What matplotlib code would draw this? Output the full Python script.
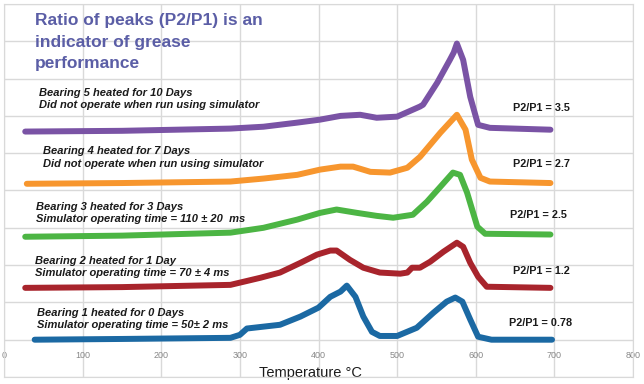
import matplotlib
matplotlib.use('Agg')
from matplotlib import pyplot as plt

# temperature (deg C) and offset signal for each bearing
temp_b1 = [39, 150, 288, 300, 309, 351, 377, 400, 415, 428, 436, 447, 457, 468, 478, 500, 525, 546, 563, 574, 583, 593, 603, 620, 697]
sig_b1 = [0.0, 0.02, 0.05, 0.13, 0.3, 0.4, 0.62, 0.86, 1.15, 1.29, 1.45, 1.15, 0.62, 0.21, 0.1, 0.1, 0.32, 0.72, 1.02, 1.13, 1.02, 0.54, 0.08, 0.0, 0.0]

temp_b2 = [27, 150, 288, 326, 351, 377, 398, 415, 423, 440, 457, 478, 504, 513, 519, 529, 542, 559, 576, 584, 593, 603, 614, 695]
sig_b2 = [1.39, 1.41, 1.47, 1.66, 1.8, 2.06, 2.28, 2.39, 2.39, 2.14, 1.93, 1.8, 1.77, 1.8, 1.93, 1.93, 2.09, 2.36, 2.6, 2.49, 2.06, 1.69, 1.42, 1.39]

temp_b3 = [27, 150, 288, 330, 373, 402, 423, 449, 474, 495, 520, 538, 555, 571, 580, 589, 602, 612, 695]
sig_b3 = [2.76, 2.79, 2.87, 3.0, 3.22, 3.4, 3.49, 3.4, 3.32, 3.27, 3.35, 3.7, 4.1, 4.48, 4.42, 3.94, 3.03, 2.84, 2.82]

temp_b4 = [29, 150, 288, 330, 373, 402, 428, 444, 466, 491, 513, 529, 555, 576, 587, 595, 606, 618, 695]
sig_b4 = [4.18, 4.2, 4.24, 4.32, 4.42, 4.56, 4.64, 4.64, 4.5, 4.48, 4.61, 4.9, 5.55, 6.03, 5.63, 4.83, 4.34, 4.24, 4.2]

temp_b5 = [27, 150, 288, 330, 373, 402, 428, 453, 474, 500, 529, 533, 551, 567, 572, 576, 584, 593, 603, 618, 695]
sig_b5 = [5.58, 5.6, 5.66, 5.71, 5.82, 5.9, 6.0, 6.03, 5.95, 5.98, 6.25, 6.3, 6.89, 7.5, 7.7, 7.94, 7.5, 6.51, 5.76, 5.68, 5.63]

bearing_notes = [
    'Bearing 1 heated for 0 Days\nSimulator operating time = 50\u00b1 2 ms',
    'Bearing 2 heated for 1 Day\nSimulator operating time = 70 \u00b1 4 ms',
    'Bearing 3 heated for 3 Days\nSimulator operating time = 110 \u00b1 20  ms',
    'Bearing 4 heated for 7 Days\nDid not operate when run using simulator',
    'Bearing 5 heated for 10 Days\nDid not operate when run using simulator',
]
ratio_labels = ['P2/P1 = 0.78', 'P2/P1 = 1.2', 'P2/P1 = 2.5', 'P2/P1 = 2.7', 'P2/P1 = 3.5']

temps = [temp_b1, temp_b2, temp_b3, temp_b4, temp_b5]
sigs = [sig_b1, sig_b2, sig_b3, sig_b4, sig_b5]
colors = ['#1b69a3', '#a8242c', '#4cb544', '#f7962e', '#7a53a5']

note_pos = [(42, 0.55), (40, 1.95), (41, 3.4), (50, 4.88), (45, 6.45)]
ratio_pos = [(683, 0.45), (683, 1.85), (680, 3.35), (683, 4.7), (683, 6.22)]

plt.rcParams['font.family'] = ['Liberation Sans', 'DejaVu Sans']

fig = plt.figure(figsize=(6.44, 3.84), dpi=100)
ax = fig.add_axes([4 / 644, 7 / 384, 629 / 644, 373 / 384])

for t, s, c in zip(temps, sigs, colors):
    ax.plot(t, s, color=c, lw=4.3, solid_capstyle='round', solid_joinstyle='round')

for (x, y), note in zip(note_pos, bearing_notes):
    ax.text(x, y, note, fontsize=8.0, fontweight='bold', fontstyle='italic',
            color='#1a1a1a', va='center', ha='left', linespacing=1.3)

for (x, y), lab in zip(ratio_pos, ratio_labels):
    ax.text(x, y, lab, fontsize=7.8, fontweight='bold', color='#1a1a1a',
            va='center', ha='center')

ax.set_xlim(0, 800)
ax.set_ylim(-1.0, 9.0)
ax.set_xticks(range(0, 801, 100))
ax.set_yticks(range(-1, 10))
ax.set_yticklabels([])
ax.grid(True, color='#d9d9d9', lw=1)
ax.set_axisbelow(True)
for sp in ax.spines.values():
    sp.set_color('#d9d9d9')
ax.tick_params(axis='x', length=0, pad=-19, labelsize=6.5, labelcolor='#888888')
ax.tick_params(axis='y', length=0)
ax.set_xlabel('Temperature \u00b0C', fontsize=10.5, color='#1a1a1a')
ax.xaxis.set_label_coords(0.487, 0.03)

fig.text(35 / 644, 1 - 13 / 384, 'Ratio of peaks (P2/P1) is an\nindicator of grease\nperformance',
         fontsize=12.5, fontweight='bold', color='#5b5ea6', va='top', ha='left', linespacing=1.55)

fig.savefig('out.png', dpi=100)
